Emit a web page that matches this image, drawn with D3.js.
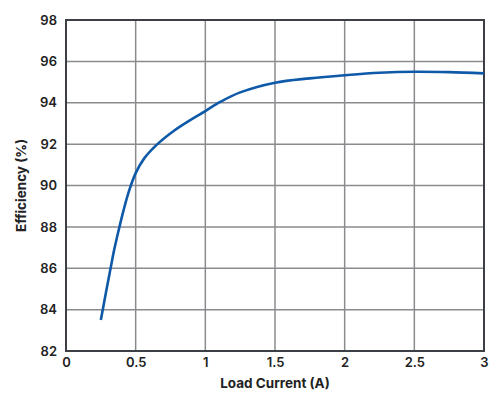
<!DOCTYPE html>
<html>
<head>
<meta charset="utf-8">
<script src="https://cdn.jsdelivr.net/npm/d3@7"></script>
<style>
  body { margin: 0; background: #fff; }
  text { font-family: Inter, "Noto Sans", sans-serif; fill: #222; }
</style>
</head>
<body>
<div id="chart"></div>
<script>
// values
const loadCurrent = [0.25, 0.286, 0.32, 0.346, 0.38, 0.413, 0.453, 0.5, 0.56, 0.656, 0.775, 0.9, 1.0, 1.11, 1.25, 1.5, 1.75, 2.0, 2.25, 2.5, 2.75, 3.0]
const efficiency  = [83.5, 84.8, 86.0, 86.9, 87.9, 88.8, 89.75, 90.6, 91.3, 92.0, 92.65, 93.2, 93.6, 94.05, 94.5, 94.97, 95.18, 95.33, 95.45, 95.5, 95.48, 95.42]
const xTicks = [0, 0.5, 1, 1.5, 2, 2.5, 3]
const yTicks = [82, 84, 86, 88, 90, 92, 94, 96, 98]

const width = 500
const height = 395
const margin = { top: 20, right: 16, bottom: 44, left: 66 }

const svg = d3.select("#chart").append("svg")
    .attr("width", width)
    .attr("height", height)

const x = d3.scaleLinear().domain([0, 3]).range([margin.left, width - margin.right])
const y = d3.scaleLinear().domain([82, 98]).range([height - margin.bottom, margin.top])

// grid
svg.append("g").selectAll("line")
    .data(xTicks.slice(1, -1))
    .enter().append("line")
    .attr("x1", d => x(d)).attr("x2", d => x(d))
    .attr("y1", y(98)).attr("y2", y(82))
    .attr("stroke", "#8a8b8e").attr("stroke-width", 1.5)

svg.append("g").selectAll("line")
    .data(yTicks.slice(1, -1))
    .enter().append("line")
    .attr("x1", x(0)).attr("x2", x(3))
    .attr("y1", d => y(d)).attr("y2", d => y(d))
    .attr("stroke", "#8a8b8e").attr("stroke-width", 1.5)

// frame
svg.append("rect")
    .attr("x", x(0)).attr("y", y(98))
    .attr("width", x(3) - x(0)).attr("height", y(82) - y(98))
    .attr("fill", "none").attr("stroke", "#3c3f45").attr("stroke-width", 2)

// axes
const xAxis = svg.append("g")
    .attr("transform", "translate(0," + y(82) + ")")
    .call(d3.axisBottom(x).tickValues(xTicks).tickSize(0).tickPadding(7).tickFormat(d3.format("")))
xAxis.select(".domain").remove()
xAxis.selectAll("text").style("font-size", "13px").style("font-weight", 600)

const yAxis = svg.append("g")
    .attr("transform", "translate(" + x(0) + ",0)")
    .call(d3.axisLeft(y).tickValues(yTicks).tickSize(0).tickPadding(9))
yAxis.select(".domain").remove()
yAxis.selectAll("text").style("font-size", "13px").style("font-weight", 600)

// titles
svg.append("text")
    .attr("x", (x(0) + x(3)) / 2)
    .attr("y", 388)
    .attr("text-anchor", "middle")
    .style("font-size", "13.5px").style("font-weight", 700)
    .text("Load Current (A)")

svg.append("text")
    .attr("transform", "translate(26," + ((y(82) + y(98)) / 2) + ") rotate(-90)")
    .attr("text-anchor", "middle")
    .style("font-size", "13.5px").style("font-weight", 700)
    .text("Efficiency (%)")

// curve
const line = d3.line()
    .x((d, i) => x(loadCurrent[i]))
    .y(d => y(d))
    .curve(d3.curveCatmullRom.alpha(0.5))

svg.append("path")
    .datum(efficiency)
    .attr("d", line)
    .attr("fill", "none")
    .attr("stroke", "#0e59a8")
    .attr("stroke-width", 2.6)
</script>
</body>
</html>
